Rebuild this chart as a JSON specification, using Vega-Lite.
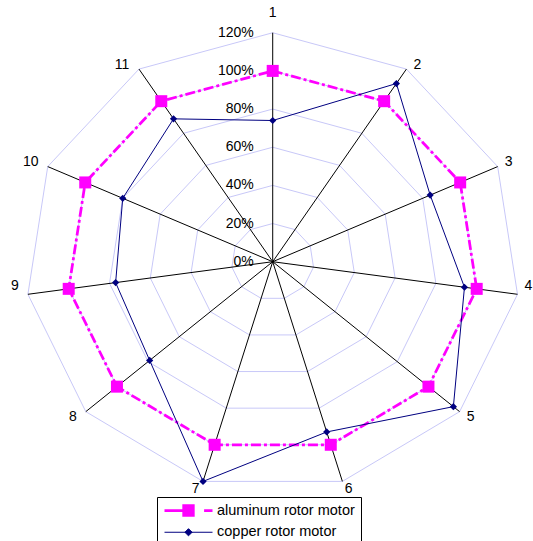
{
  "$schema": "https://vega.github.io/schema/vega-lite/v6.json",
  "width": 533,
  "height": 541,
  "padding": 0,
  "autosize": "none",
  "background": "white",
  "config": {"view": {"stroke": null}, "text": {"font": "Liberation Sans"}},
  "datasets": {
    "motors": [
      {"axis": 1, "series": "aluminum rotor motor", "value": 1.00},
      {"axis": 2, "series": "aluminum rotor motor", "value": 1.00},
      {"axis": 3, "series": "aluminum rotor motor", "value": 1.00},
      {"axis": 4, "series": "aluminum rotor motor", "value": 1.00},
      {"axis": 5, "series": "aluminum rotor motor", "value": 1.00},
      {"axis": 6, "series": "aluminum rotor motor", "value": 1.00},
      {"axis": 7, "series": "aluminum rotor motor", "value": 1.00},
      {"axis": 8, "series": "aluminum rotor motor", "value": 1.00},
      {"axis": 9, "series": "aluminum rotor motor", "value": 1.00},
      {"axis": 10, "series": "aluminum rotor motor", "value": 1.00},
      {"axis": 11, "series": "aluminum rotor motor", "value": 1.00},
      {"axis": 1, "series": "copper rotor motor", "value": 0.74},
      {"axis": 2, "series": "copper rotor motor", "value": 1.11},
      {"axis": 3, "series": "copper rotor motor", "value": 0.84},
      {"axis": 4, "series": "copper rotor motor", "value": 0.94},
      {"axis": 5, "series": "copper rotor motor", "value": 1.16},
      {"axis": 6, "series": "copper rotor motor", "value": 0.93},
      {"axis": 7, "series": "copper rotor motor", "value": 1.20},
      {"axis": 8, "series": "copper rotor motor", "value": 0.79},
      {"axis": 9, "series": "copper rotor motor", "value": 0.77},
      {"axis": 10, "series": "copper rotor motor", "value": 0.80},
      {"axis": 11, "series": "copper rotor motor", "value": 0.89}
    ],
    "axes": [
      {"axis": 1, "label": "1"}, {"axis": 2, "label": "2"}, {"axis": 3, "label": "3"},
      {"axis": 4, "label": "4"}, {"axis": 5, "label": "5"}, {"axis": 6, "label": "6"},
      {"axis": 7, "label": "7"}, {"axis": 8, "label": "8"}, {"axis": 9, "label": "9"},
      {"axis": 10, "label": "10"}, {"axis": 11, "label": "11"}
    ],
    "rings": [
      {"level": 0.2, "axes": [1,2,3,4,5,6,7,8,9,10,11]},
      {"level": 0.4, "axes": [1,2,3,4,5,6,7,8,9,10,11]},
      {"level": 0.6, "axes": [1,2,3,4,5,6,7,8,9,10,11]},
      {"level": 0.8, "axes": [1,2,3,4,5,6,7,8,9,10,11]},
      {"level": 1.0, "axes": [1,2,3,4,5,6,7,8,9,10,11]},
      {"level": 1.2, "axes": [1,2,3,4,5,6,7,8,9,10,11]}
    ],
    "ticks": [
      {"level": 0, "label": "0%"},
      {"level": 0.2, "label": "20%"},
      {"level": 0.4, "label": "40%"},
      {"level": 0.6, "label": "60%"},
      {"level": 0.8, "label": "80%"},
      {"level": 1.0, "label": "100%"},
      {"level": 1.2, "label": "120%"}
    ]
  },
  "layer": [
    {
      "data": {"name": "rings"},
      "transform": [
        {"flatten": ["axes"], "as": ["axis"]},
        {"calculate": "(datum.axis - 1) * 2 * PI / 11", "as": "theta"},
        {"calculate": "datum.level * sin(datum.theta)", "as": "px"},
        {"calculate": "datum.level * cos(datum.theta)", "as": "py"}
      ],
      "mark": {"type": "line", "color": "#c8c8f8", "strokeWidth": 1, "interpolate": "linear-closed"},
      "encoding": {
        "x": {"field": "px", "type": "quantitative", "scale": {"domain": [-1.3232, 1.263], "nice": false, "zero": false}, "axis": null},
        "y": {"field": "py", "type": "quantitative", "scale": {"domain": [-1.4638, 1.3716], "nice": false, "zero": false}, "axis": null},
        "detail": {"field": "level", "type": "nominal"},
        "order": {"field": "axis", "type": "quantitative"}
      }
    },
    {
      "data": {"name": "axes"},
      "transform": [
        {"calculate": "(datum.axis - 1) * 2 * PI / 11", "as": "theta"},
        {"calculate": "1.2 * sin(datum.theta)", "as": "px"},
        {"calculate": "1.2 * cos(datum.theta)", "as": "py"}
      ],
      "mark": {"type": "rule", "color": "black", "strokeWidth": 1},
      "encoding": {
        "x": {"field": "px", "type": "quantitative"},
        "y": {"field": "py", "type": "quantitative"},
        "x2": {"datum": 0},
        "y2": {"datum": 0}
      }
    },
    {
      "data": {"name": "motors"},
      "transform": [
        {"filter": "datum.series === 'aluminum rotor motor'"},
        {"calculate": "(datum.axis - 1) * 2 * PI / 11", "as": "theta"},
        {"calculate": "datum.value * sin(datum.theta)", "as": "px"},
        {"calculate": "datum.value * cos(datum.theta)", "as": "py"}
      ],
      "mark": {"type": "line", "color": "#ff00ff", "strokeWidth": 2.75, "strokeDash": [10, 3, 3, 3], "interpolate": "linear-closed"},
      "encoding": {
        "x": {"field": "px", "type": "quantitative"},
        "y": {"field": "py", "type": "quantitative"},
        "order": {"field": "axis", "type": "quantitative"}
      }
    },
    {
      "data": {"name": "motors"},
      "transform": [
        {"filter": "datum.series === 'aluminum rotor motor'"},
        {"calculate": "(datum.axis - 1) * 2 * PI / 11", "as": "theta"},
        {"calculate": "datum.value * sin(datum.theta)", "as": "px"},
        {"calculate": "datum.value * cos(datum.theta)", "as": "py"}
      ],
      "mark": {"type": "point", "shape": "square", "filled": true, "opacity": 1, "size": 144, "strokeWidth": 0, "color": "#ff00ff"},
      "encoding": {
        "x": {"field": "px", "type": "quantitative"},
        "y": {"field": "py", "type": "quantitative"}
      }
    },
    {
      "data": {"name": "motors"},
      "transform": [
        {"filter": "datum.series === 'copper rotor motor'"},
        {"calculate": "(datum.axis - 1) * 2 * PI / 11", "as": "theta"},
        {"calculate": "datum.value * sin(datum.theta)", "as": "px"},
        {"calculate": "datum.value * cos(datum.theta)", "as": "py"}
      ],
      "mark": {"type": "line", "color": "#000080", "strokeWidth": 1, "interpolate": "linear-closed"},
      "encoding": {
        "x": {"field": "px", "type": "quantitative"},
        "y": {"field": "py", "type": "quantitative"},
        "order": {"field": "axis", "type": "quantitative"}
      }
    },
    {
      "data": {"name": "motors"},
      "transform": [
        {"filter": "datum.series === 'copper rotor motor'"},
        {"calculate": "(datum.axis - 1) * 2 * PI / 11", "as": "theta"},
        {"calculate": "datum.value * sin(datum.theta)", "as": "px"},
        {"calculate": "datum.value * cos(datum.theta)", "as": "py"}
      ],
      "mark": {"type": "point", "shape": "M0,-0.6L0.6,0L0,0.6L-0.6,0Z", "filled": true, "opacity": 1, "size": 144, "strokeWidth": 0, "color": "#000080"},
      "encoding": {
        "x": {"field": "px", "type": "quantitative"},
        "y": {"field": "py", "type": "quantitative"}
      }
    },
    {
      "data": {"name": "motors"},
      "transform": [
        {"filter": "false"},
        {"calculate": "0", "as": "px"},
        {"calculate": "0", "as": "py"}
      ],
      "mark": {"type": "point", "filled": true, "opacity": 1, "size": 144},
      "encoding": {
        "x": {"field": "px", "type": "quantitative"},
        "y": {"field": "py", "type": "quantitative"},
        "fill": {
          "field": "series", "type": "nominal",
          "scale": {"domain": ["aluminum rotor motor", "copper rotor motor"], "range": ["#ff00ff", "#000080"]},
          "legend": {
            "title": null,
            "orient": "none",
            "legendX": 157,
            "legendY": 497,
            "padding": 6,
            "strokeColor": "black",
            "fillColor": "white",
            "symbolSize": 144,
            "symbolOffset": 18,
            "labelOffset": 21,
            "rowPadding": 3,
            "labelFont": "Liberation Sans",
            "labelFontSize": 14.5,
            "labelColor": "black"
          }
        },
        "stroke": {
          "field": "series", "type": "nominal",
          "scale": {"domain": ["aluminum rotor motor", "copper rotor motor"], "range": ["#ff00ff", "#000080"]}
        },
        "strokeWidth": {
          "field": "series", "type": "nominal",
          "scale": {"domain": ["aluminum rotor motor", "copper rotor motor"], "range": [2.75, 1]}
        },
        "shape": {
          "field": "series", "type": "nominal",
          "scale": {"domain": ["aluminum rotor motor", "copper rotor motor"], "range": ["M-4,0H-0.8M-0.8,-0.8H0.8V0.8H-0.8ZM2.6,0H4", "M-4,0H4M0,-0.6L0.6,0L0,0.6L-0.6,0Z"]}
        }
      }
    },
    {
      "data": {"name": "ticks"},
      "mark": {"type": "text", "align": "right", "baseline": "middle", "dx": -19, "fontSize": 14, "font": "Liberation Sans", "color": "black"},
      "encoding": {
        "x": {"datum": 0, "type": "quantitative"},
        "y": {"field": "level", "type": "quantitative"},
        "text": {"field": "label", "type": "nominal"}
      }
    },
    {
      "data": {"name": "axes"},
      "transform": [
        {"calculate": "(datum.axis - 1) * 2 * PI / 11", "as": "theta"},
        {"calculate": "sin(datum.theta)", "as": "s"},
        {"calculate": "cos(datum.theta)", "as": "c"},
        {"calculate": "datum.s > 0.05 ? 11 * min(1, 2 * datum.s) : datum.s < -0.05 ? -13 * min(1, 2 * abs(datum.s)) - 4 * (length(datum.label) - 1) : 0", "as": "ox"},
        {"calculate": "datum.c > 0.95 ? 19.5 : datum.c > 0.3 ? 4.5 : datum.c > -0.3 ? 8 : datum.c > -0.8 ? -5 : -8", "as": "oy"},
        {"calculate": "1.2 * datum.s + datum.ox / 206.1", "as": "px"},
        {"calculate": "1.2 * datum.c + datum.oy / 190.8", "as": "py"}
      ],
      "mark": {"type": "text", "align": "center", "baseline": "middle", "fontSize": 14, "font": "Liberation Sans", "color": "black"},
      "encoding": {
        "x": {"field": "px", "type": "quantitative"},
        "y": {"field": "py", "type": "quantitative"},
        "text": {"field": "label", "type": "nominal"}
      }
    }
  ]
}
